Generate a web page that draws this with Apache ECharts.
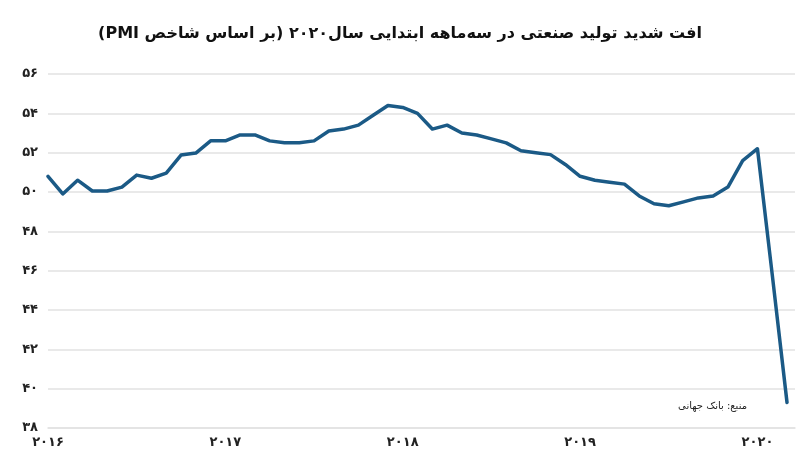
<!DOCTYPE html>
<html>
<head>
<meta charset="utf-8">
<script src="https://cdn.jsdelivr.net/npm/echarts@6/dist/echarts.min.js"></script>
<style>
html,body{margin:0;padding:0;background:#fff;}
#c{width:800px;height:462px;}
</style>
</head>
<body>
<div id="c"></div>
<script>
var titleText = 'افت شدید تولید صنعتی در سه‌ماهه ابتدایی سال۲۰۲۰ (بر اساس شاخص PMI)';
var sourceText = 'منبع: بانک جهانی';
var months = [
 '2016-01','2016-02','2016-03','2016-04','2016-05','2016-06','2016-07','2016-08','2016-09','2016-10','2016-11','2016-12',
 '2017-01','2017-02','2017-03','2017-04','2017-05','2017-06','2017-07','2017-08','2017-09','2017-10','2017-11','2017-12',
 '2018-01','2018-02','2018-03','2018-04','2018-05','2018-06','2018-07','2018-08','2018-09','2018-10','2018-11','2018-12',
 '2019-01','2019-02','2019-03','2019-04','2019-05','2019-06','2019-07','2019-08','2019-09','2019-10','2019-11','2019-12',
 '2020-01','2020-02','2020-03'
];
var pmi = [
 50.8, 49.9, 50.6, 50.05, 50.05, 50.25, 50.86, 50.7, 50.96, 51.88, 51.98, 52.6,
 52.6, 52.9, 52.9, 52.6, 52.5, 52.5, 52.6, 53.1, 53.2, 53.4, 53.9, 54.4,
 54.3, 54.0, 53.2, 53.4, 53.0, 52.9, 52.7, 52.5, 52.1, 52.0, 51.9, 51.4,
 50.8, 50.6, 50.5, 50.4, 49.8, 49.4, 49.3, 49.5, 49.7, 49.8, 50.25, 51.6,
 52.2, 45.8, 39.3
];
var xTickLabels = ['۲۰۱۶','۲۰۱۷','۲۰۱۸','۲۰۱۹','۲۰۲۰'];
var yTickValues = [38,40,42,44,46,48,50,52,54,56];
var yTickLabels = ['۳۸','۴۰','۴۲','۴۴','۴۶','۴۸','۵۰','۵۲','۵۴','۵۶'];

var seriesData = pmi.map(function(v,i){ return [i, v, months[i]]; });

var chart = echarts.init(document.getElementById('c'), null, {renderer:'canvas'});
var font = 'DejaVu Sans';
chart.setOption({
  backgroundColor:'#fff',
  animation:false,
  title:{
    text:'\u202B' + titleText + '\u202C', left:'center', top:21,
    textStyle:{fontFamily:font, fontSize:16, fontWeight:'bold', color:'#111'}
  },
  grid:{left:48, right:5, top:74, bottom:34},
  xAxis:{
    type:'value', min:0, max:50.54, interval:12,
    axisLine:{show:true, onZero:false, lineStyle:{color:'#e2e2e2', width:1.5}},
    axisTick:{show:false},
    splitLine:{show:false},
    axisLabel:{
      showMaxLabel:false,
      formatter:function(v){var k=Math.round(v/12);return (v%12===0 && xTickLabels[k])?xTickLabels[k]:'';},
      fontFamily:font, fontSize:13, fontWeight:'bold', color:'#222', margin:8
    }
  },
  yAxis:{
    type:'value', min:38, max:56, interval:2,
    axisLine:{show:false}, axisTick:{show:false},
    splitLine:{lineStyle:{color:'#e2e2e2', width:1.5}},
    axisLabel:{
      formatter:function(v){var k=yTickValues.indexOf(v);return k>=0?yTickLabels[k]:'';},
      fontFamily:font, fontSize:13, fontWeight:'bold', color:'#222', margin:10
    }
  },
  series:[{
    type:'line', data:seriesData, symbol:'none',
    lineStyle:{color:'#1b5a86', width:3.5, join:'round', cap:'round'}
  }],
  graphic:[{
    type:'text', right:53, top:401,
    style:{text:sourceText, fontFamily:font, fontSize:10, fill:'#222'}
  }]
});
</script>
</body>
</html>
